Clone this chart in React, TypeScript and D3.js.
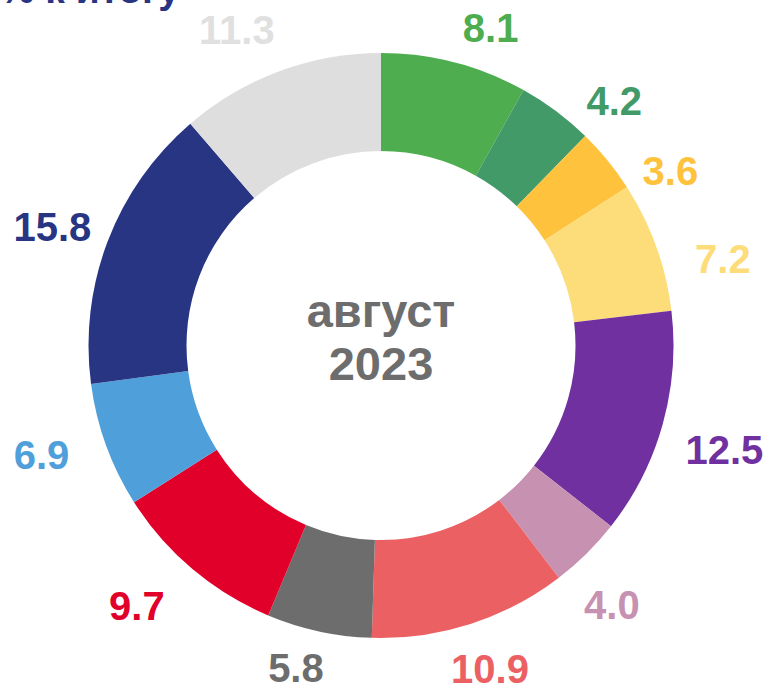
import React from "react";
import * as d3 from "d3";

const categories = ["c1", "c2", "c3", "c4", "c5", "c6", "c7", "c8", "c9", "c10", "c11", "c12"];
const values = [8.1, 4.2, 3.6, 7.2, 12.5, 4.0, 10.9, 5.8, 9.7, 6.9, 15.8, 11.3];
const colors = [
  "#4EAD4F", "#439A69", "#FFC23D", "#FDDC7A", "#7030A0", "#C792B1",
  "#EB6163", "#6D6D6D", "#E1002A", "#4FA0DA", "#283583", "#DEDEDE",
];
const labelColors = [
  "#4EAD4F", "#439A69", "#FFC23D", "#FDDC7A", "#7030A0", "#C792B1",
  "#EB6163", "#6D6D6D", "#E1002A", "#4FA0DA", "#283583", "#E0E0E0",
];
// label nudges from the outside-centroid position (Excel-style manual placement)
const labelNudge: [number, number][] = [
  [24, 11], [30, 28], [26, 40], [22, 28], [16, 12], [-8, 17],
  [5, -1], [-13, -10], [-25, 0], [-20, -7], [-11, 2], [-26, 3],
];
const title = "% к итогу";
const centerLines = ["август", "2023"];

const W = 772;
const H = 688;
const cx = 381;
const cy = 345.5;
const outerR = 292.5;
const innerR = 194.5;
const labelR = 340;

export default function App() {
  const pie = d3.pie<number>().sort(null).value((d) => d);
  const arcs = pie(values);
  const arc = d3.arc<d3.PieArcDatum<number>>().innerRadius(innerR).outerRadius(outerR);
  const labelArc = d3.arc<d3.PieArcDatum<number>>().innerRadius(labelR).outerRadius(labelR);
  const font = "'Liberation Sans', Arial, sans-serif";

  return (
    <svg
      width={W}
      height={H}
      style={{ position: "absolute", left: 0, top: 0, background: "#fff" }}
      fontFamily={font}
    >
      <text x={180} y={3} textAnchor="end" fontSize={39} fontWeight="bold" fill="#283583">
        {title}
      </text>
      <g transform={`translate(${cx},${cy})`}>
        {arcs.map((a, i) => (
          <path key={categories[i]} d={arc(a) || ""} fill={colors[i]} />
        ))}
        {arcs.map((a, i) => {
          const [lx, ly] = labelArc.centroid(a);
          return (
            <text
              key={"l" + categories[i]}
              x={lx + labelNudge[i][0]}
              y={ly + labelNudge[i][1]}
              dy="0.36em"
              textAnchor="middle"
              fontSize={40}
              fontWeight="bold"
              fill={labelColors[i]}
            >
              {values[i].toFixed(1)}
            </text>
          );
        })}
        <text x={0} y={-18.5} textAnchor="middle" fontSize={47} fontWeight="bold" fill="#6D6D6D">
          {centerLines[0]}
        </text>
        <text x={0} y={34.5} textAnchor="middle" fontSize={47} fontWeight="bold" fill="#6D6D6D">
          {centerLines[1]}
        </text>
      </g>
    </svg>
  );
}
